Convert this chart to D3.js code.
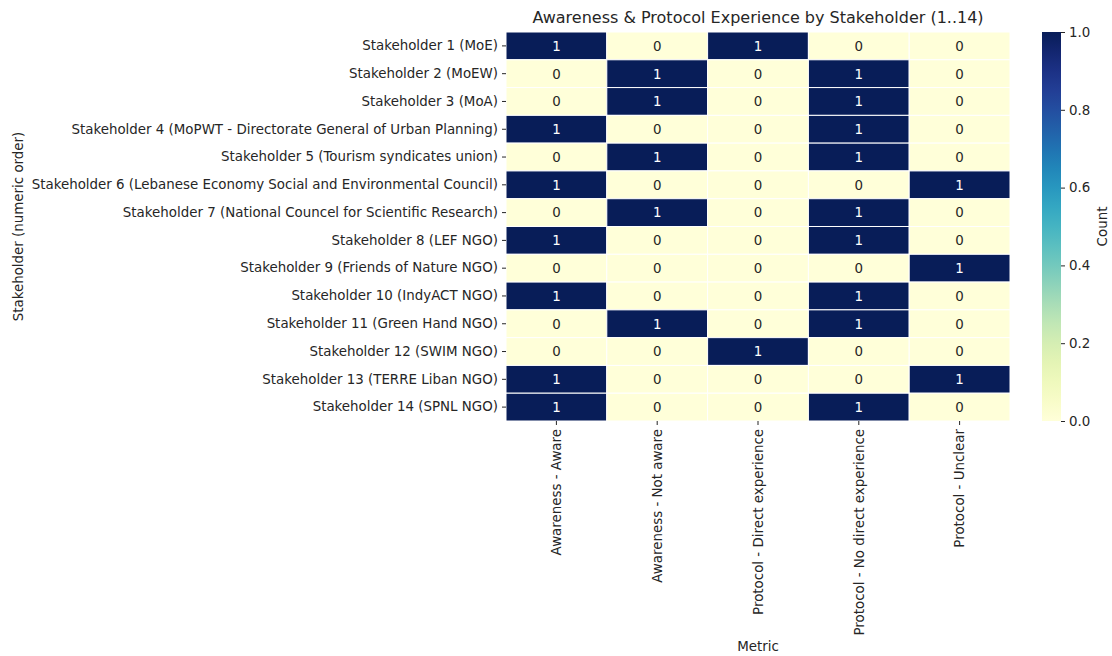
<!DOCTYPE html>
<html>
<head>
<meta charset="utf-8">
<script src="https://cdn.jsdelivr.net/npm/d3@7"></script>
<style>
  body { margin: 0; background: #fff; }
  text { font-family: "DejaVu Sans", sans-serif; fill: #262626; }
</style>
</head>
<body>
<div id="vis"></div>
<script>
// chart data
const stakeholders = [
  "Stakeholder 1 (MoE)",
  "Stakeholder 2 (MoEW)",
  "Stakeholder 3 (MoA)",
  "Stakeholder 4 (MoPWT - Directorate General of Urban Planning)",
  "Stakeholder 5 (Tourism syndicates union)",
  "Stakeholder 6 (Lebanese Economy Social and Environmental Council)",
  "Stakeholder 7 (National Councel for Scientific Research)",
  "Stakeholder 8 (LEF NGO)",
  "Stakeholder 9 (Friends of Nature NGO)",
  "Stakeholder 10 (IndyACT NGO)",
  "Stakeholder 11 (Green Hand NGO)",
  "Stakeholder 12 (SWIM NGO)",
  "Stakeholder 13 (TERRE Liban NGO)",
  "Stakeholder 14 (SPNL NGO)"
];
const metrics = [
  "Awareness - Aware",
  "Awareness - Not aware",
  "Protocol - Direct experience",
  "Protocol - No direct experience",
  "Protocol - Unclear"
];
const counts = [
  [1, 0, 1, 0, 0],
  [0, 1, 0, 1, 0],
  [0, 1, 0, 1, 0],
  [1, 0, 0, 1, 0],
  [0, 1, 0, 1, 0],
  [1, 0, 0, 0, 1],
  [0, 1, 0, 1, 0],
  [1, 0, 0, 1, 0],
  [0, 0, 0, 0, 1],
  [1, 0, 0, 1, 0],
  [0, 1, 0, 1, 0],
  [0, 0, 1, 0, 0],
  [1, 0, 0, 0, 1],
  [1, 0, 0, 1, 0]
];
const cbarTicks = [0, 0.2, 0.4, 0.6, 0.8, 1.0];

const W = 1112, H = 656;
const mLeft = 506, mRight = 1010, mTop = 32, mBottom = 421;
const fs = "13.4px";

const svg = d3.select("#vis").append("svg").attr("width", W).attr("height", H);

const x = d3.scaleBand().domain(metrics).range([mLeft, mRight]);
const y = d3.scaleBand().domain(stakeholders).range([mTop, mBottom]);
const color = d3.scaleSequential(d3.interpolateYlGnBu).domain([0, 1]);

// cells
const cells = [];
counts.forEach((row, i) => row.forEach((v, j) => cells.push({s: stakeholders[i], m: metrics[j], v: v})));

const g = svg.append("g");
g.selectAll("rect.cell").data(cells).enter().append("rect")
  .attr("class", "cell")
  .attr("x", d => x(d.m))
  .attr("y", d => y(d.s))
  .attr("width", x.bandwidth())
  .attr("height", y.bandwidth())
  .attr("fill", d => color(d.v))
  .attr("stroke", "#fff")
  .attr("stroke-width", 1);

g.selectAll("text.lbl").data(cells).enter().append("text")
  .attr("class", "lbl")
  .attr("x", d => x(d.m) + x.bandwidth() / 2)
  .attr("y", d => y(d.s) + y.bandwidth() / 2)
  .attr("dy", "0.36em")
  .attr("text-anchor", "middle")
  .style("font-size", fs)
  .style("fill", d => d.v > 0.5 ? "#ffffff" : "#262626")
  .text(d => d.v);

// axes
const yAxis = svg.append("g").attr("transform", `translate(${mLeft},0)`)
  .call(d3.axisLeft(y).tickSize(4).tickPadding(4));
yAxis.select(".domain").remove();
yAxis.selectAll("text").style("font-size", fs).style("font-family", "DejaVu Sans, sans-serif").attr("fill", "#262626");
yAxis.selectAll("line").attr("stroke", "#262626");

const xAxis = svg.append("g").attr("transform", `translate(0,${mBottom})`)
  .call(d3.axisBottom(x).tickSize(4).tickPadding(4));
xAxis.select(".domain").remove();
xAxis.selectAll("line").attr("stroke", "#262626");
xAxis.selectAll("text")
  .style("font-size", fs).style("font-family", "DejaVu Sans, sans-serif").attr("fill", "#262626")
  .attr("transform", "rotate(-90)")
  .attr("text-anchor", "end")
  .attr("x", -8).attr("y", 0).attr("dy", "0.36em");

svg.append("text").attr("x", (mLeft + mRight) / 2).attr("y", 651)
  .attr("text-anchor", "middle").style("font-size", fs).text("Metric");

svg.append("text")
  .attr("transform", `translate(23,${(mTop + mBottom) / 2}) rotate(-90)`)
  .attr("text-anchor", "middle").style("font-size", fs).text("Stakeholder (numeric order)");

svg.append("text").attr("x", (mLeft + mRight) / 2).attr("y", 23)
  .attr("text-anchor", "middle").style("font-size", "16px").text("Awareness & Protocol Experience by Stakeholder (1..14)");

// colorbar
const cbX = 1042, cbW = 19;
const cy = d3.scaleLinear().domain([0, 1]).range([mBottom, mTop]);
const defs = svg.append("defs");
const grad = defs.append("linearGradient").attr("id", "cbar")
  .attr("x1", 0).attr("y1", 1).attr("x2", 0).attr("y2", 0);
d3.range(0, 1.0001, 0.05).forEach(t => {
  grad.append("stop").attr("offset", t).attr("stop-color", color(t));
});
svg.append("rect").attr("x", cbX).attr("y", mTop).attr("width", cbW).attr("height", mBottom - mTop)
  .attr("fill", "url(#cbar)");
const cAxis = svg.append("g").attr("transform", `translate(${cbX + cbW},0)`)
  .call(d3.axisRight(cy).tickValues(cbarTicks).tickFormat(d3.format(".1f")).tickSize(4).tickPadding(4));
cAxis.select(".domain").remove();
cAxis.selectAll("line").attr("stroke", "#262626");
cAxis.selectAll("text").style("font-size", fs).style("font-family", "DejaVu Sans, sans-serif").attr("fill", "#262626");
svg.append("text")
  .attr("transform", `translate(1107,${(mTop + mBottom) / 2}) rotate(-90)`)
  .attr("text-anchor", "middle").style("font-size", fs).text("Count");
</script>
</body>
</html>
